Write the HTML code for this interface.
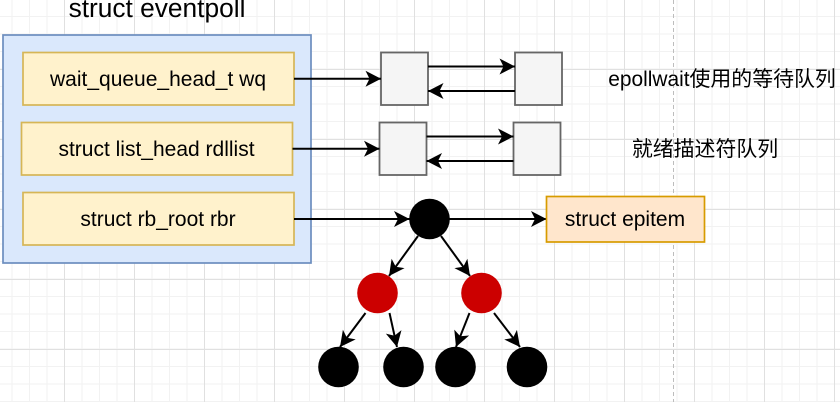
<!DOCTYPE html>
<html>
<head>
<meta charset="utf-8">
<style>
html,body{margin:0;padding:0;background:#fff;width:840px;height:402px;overflow:hidden}
svg{display:block}
text{font-family:"Liberation Sans","Noto Sans CJK SC",sans-serif;fill:#000;text-anchor:middle}
</style>
</head>
<body>
<svg width="840" height="402" viewBox="0 0 840 402" xmlns="http://www.w3.org/2000/svg">
<defs>
<pattern id="minor" x="-6" y="-1.5" width="17.5" height="17.5" patternUnits="userSpaceOnUse">
<rect x="0" y="0" width="17.5" height="1" fill="#f2f2f2"/>
<rect x="0" y="0" width="1" height="17.5" fill="#f2f2f2"/>
</pattern>
<pattern id="major" x="-6" y="-1" width="70" height="70" patternUnits="userSpaceOnUse">
<rect x="0" y="0" width="70" height="1" fill="#e0e0e0"/>
<rect x="0" y="0" width="1" height="70" fill="#e0e0e0"/>
</pattern>
<marker id="a" markerUnits="userSpaceOnUse" markerWidth="18" markerHeight="18" refX="16" refY="9" orient="auto">
<path d="M0.5 1L16 9L0.5 17L4.5 9Z" fill="#000"/>
</marker>
</defs>
<rect width="840" height="402" fill="url(#minor)"/>
<rect width="840" height="402" fill="url(#major)"/>
<path d="M673.5 0V402" stroke="#bdbdbd" stroke-width="1" stroke-dasharray="4 3" fill="none"/>

<text x="157" y="17" font-size="26.3">struct eventpoll</text>

<rect x="3" y="35" width="308" height="228" fill="#dae8fc" stroke="#6c8ebf" stroke-width="1.7"/>
<g fill="#fff2cc" stroke="#d6b656" stroke-width="1.7">
<rect x="23" y="52.5" width="271" height="52.5"/>
<rect x="21.5" y="122.5" width="271" height="52.5"/>
<rect x="23" y="192.5" width="271" height="52.5"/>
</g>
<text x="158" y="86" font-size="21">wait_queue_head_t wq</text>
<text x="156.5" y="156" font-size="21">struct list_head rdllist</text>
<text x="158" y="226" font-size="21">struct rb_root rbr</text>

<g fill="#f5f5f5" stroke="#666" stroke-width="1.8">
<rect x="381" y="52.5" width="47" height="52.5"/>
<rect x="515" y="52.5" width="47" height="52.5"/>
<rect x="379.5" y="122.5" width="47" height="52.5"/>
<rect x="513.5" y="122.5" width="47" height="52.5"/>
</g>

<g stroke="#000" stroke-width="2" fill="none" marker-end="url(#a)">
<path d="M294 78.7H381"/>
<path d="M292.5 148.7H379.5"/>
<path d="M428 66.5H515"/>
<path d="M515 91H428"/>
<path d="M426.5 136.5H513.5"/>
<path d="M513.5 161H426.5"/>
<path d="M294 219H409.5"/>
<path d="M449.5 219H546.5"/>
<path d="M418 236L389 276"/>
<path d="M441 236L470 276"/>
<path d="M365.5 313L340 347"/>
<path d="M389.5 313L397 347"/>
<path d="M469.5 313L456 347"/>
<path d="M494 313L520 347"/>
</g>

<circle cx="429.5" cy="219" r="20.3" fill="#000"/>
<circle cx="377.5" cy="293" r="20.3" fill="#cc0000"/>
<circle cx="481.5" cy="293" r="20.3" fill="#cc0000"/>
<circle cx="338.5" cy="367" r="20.3" fill="#000"/>
<circle cx="403.5" cy="367" r="20.3" fill="#000"/>
<circle cx="455.5" cy="367" r="20.3" fill="#000"/>
<circle cx="527" cy="367" r="20.3" fill="#000"/>

<rect x="546.5" y="196.5" width="158" height="45.5" fill="#ffe6cc" stroke="#d79b00" stroke-width="1.7"/>
<text x="625" y="226" font-size="21">struct epitem</text>

<text x="722" y="86" font-size="20.9">epollwait使用的等待队列</text>
<text x="705" y="156" font-size="20.9">就绪描述符队列</text>
</svg>
</body>
</html>
